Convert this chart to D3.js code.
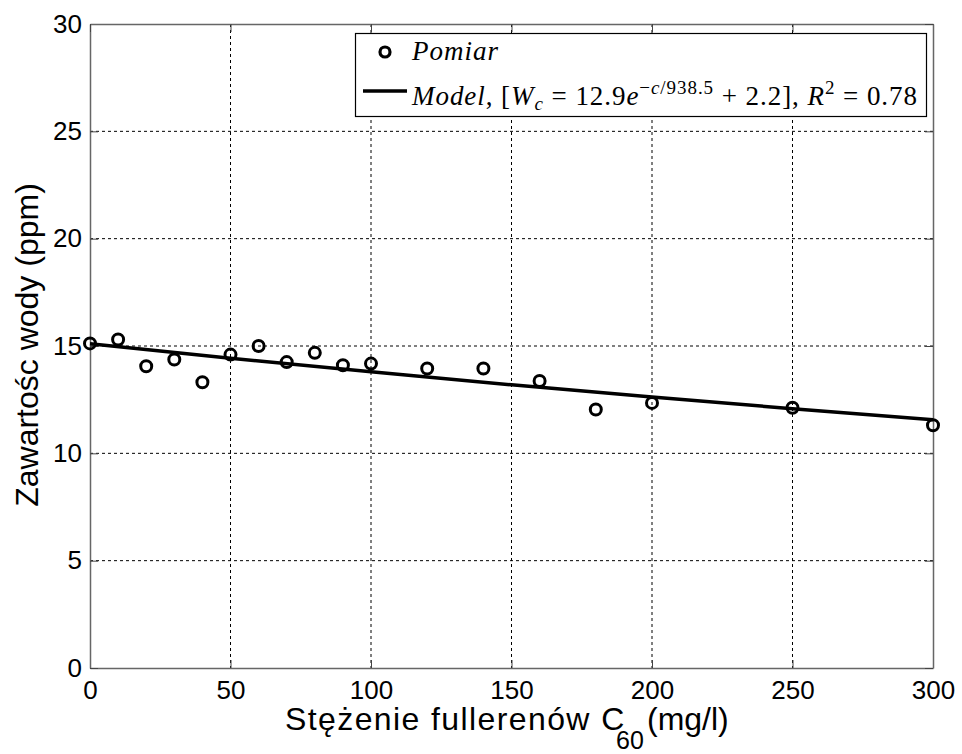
<!DOCTYPE html>
<html>
<head>
<meta charset="utf-8">
<script src="https://cdn.jsdelivr.net/npm/d3@7"></script>
<style>
  body { margin: 0; background: #fff; }
</style>
</head>
<body>
<div id="canvas"></div>
<script>
// measured points (concentration mg/l -> water ppm)
const concentration = [0, 10, 20, 30, 40, 50, 60, 70, 80, 90, 100, 120, 140, 160, 180, 200, 250, 300];
const water = [15.12, 15.3, 14.06, 14.37, 13.31, 14.6, 15.0, 14.25, 14.68, 14.1, 14.18, 13.95, 13.95, 13.37, 12.04, 12.35, 12.12, 11.31];

// model curve values
const modelC = [0, 50, 100, 150, 200, 250, 300];
const modelW = [15.1, 14.43, 13.8, 13.19, 12.62, 12.08, 11.57];

const xTicks = [0, 50, 100, 150, 200, 250, 300];
const yTicks = [0, 5, 10, 15, 20, 25, 30];

const width = 962, height = 754;
const margin = { top: 24, right: 29, bottom: 86, left: 90 };
const innerWidth = width - margin.left - margin.right;
const innerHeight = height - margin.top - margin.bottom;

const svg = d3.select('#canvas').append('svg')
    .attr('width', width)
    .attr('height', height)
    .style('background-color', '#fff');

const g = svg.append('g')
    .attr('transform', `translate(${margin.left},${margin.top})`);

const x = d3.scaleLinear().domain([0, 300]).range([0, innerWidth]);
const y = d3.scaleLinear().domain([0, 30]).range([innerHeight, 0]);

// dotted grid
g.append('g').selectAll('line')
  .data(xTicks.slice(1, -1))
  .enter().append('line')
    .attr('x1', d => x(d)).attr('x2', d => x(d))
    .attr('y1', 0).attr('y2', innerHeight)
    .attr('stroke', '#000').attr('stroke-width', 1)
    .attr('stroke-dasharray', '3,3');
g.append('g').selectAll('line')
  .data(yTicks.slice(1, -1))
  .enter().append('line')
    .attr('x1', 0).attr('x2', innerWidth)
    .attr('y1', d => y(d)).attr('y2', d => y(d))
    .attr('stroke', '#000').attr('stroke-width', 1)
    .attr('stroke-dasharray', '3,3');

// axes (box with inward ticks on all four sides)
const tickFont = 'Liberation Sans, Arial, sans-serif';
const xAxis = g.append('g')
    .attr('transform', `translate(0,${innerHeight})`)
    .call(d3.axisBottom(x).tickValues(xTicks).tickSizeInner(-8).tickSizeOuter(0).tickPadding(12));
const yAxis = g.append('g')
    .call(d3.axisLeft(y).tickValues(yTicks).tickSizeInner(-8).tickSizeOuter(0).tickPadding(8));
const xTop = g.append('g')
    .call(d3.axisTop(x).tickValues(xTicks).tickSizeInner(-8).tickSizeOuter(0).tickFormat(''));
const yRight = g.append('g')
    .attr('transform', `translate(${innerWidth},0)`)
    .call(d3.axisRight(y).tickValues(yTicks).tickSizeInner(-8).tickSizeOuter(0).tickFormat(''));
[xAxis, yAxis, xTop, yRight].forEach(a => {
  a.select('.domain').attr('stroke', '#666').attr('stroke-width', 1.5);
  a.selectAll('.tick line').attr('stroke', '#444');
  a.selectAll('.tick text').attr('font-family', tickFont).attr('font-size', 26).attr('fill', '#000');
});
xAxis.selectAll('.tick text').attr('dy', '0.72em');

// model line
const line = d3.line().x((d, i) => x(modelC[i])).y(d => y(d));
g.append('path')
  .datum(modelW)
  .attr('d', line)
  .attr('fill', 'none')
  .attr('stroke', '#000')
  .attr('stroke-width', 3.5);

// measurement markers
g.selectAll('circle.pt')
  .data(water)
  .enter().append('circle')
    .attr('cx', (d, i) => x(concentration[i]))
    .attr('cy', d => y(d))
    .attr('r', 5.5)
    .attr('fill', 'none')
    .attr('stroke', '#000')
    .attr('stroke-width', 3);

// legend
const lg = svg.append('g');
lg.append('rect')
  .attr('x', 355.5).attr('y', 33.5).attr('width', 571).attr('height', 83)
  .attr('fill', '#fff').attr('stroke', '#000').attr('stroke-width', 1.2);
lg.append('circle')
  .attr('cx', 385).attr('cy', 52).attr('r', 5)
  .attr('fill', 'none').attr('stroke', '#000').attr('stroke-width', 3.2);
lg.append('line')
  .attr('x1', 363).attr('x2', 407).attr('y1', 91).attr('y2', 91)
  .attr('stroke', '#000').attr('stroke-width', 3.5);

const serif = 'Liberation Serif, Times New Roman, serif';
lg.append('text')
  .attr('x', 412).attr('y', 60)
  .attr('font-family', serif).attr('font-size', 27).attr('font-style', 'italic')
  .attr('textLength', 86).attr('lengthAdjust', 'spacing')
  .text('Pomiar');

const mt = lg.append('text')
  .attr('x', 412).attr('y', 105)
  .attr('font-family', serif).attr('font-size', 27)
  .attr('textLength', 505).attr('lengthAdjust', 'spacing');
const parts = [
  ['Model', 'italic', 0, 27], [', [', 'normal', 0, 27],
  ['W', 'italic', 0, 27], ['c', 'italic', 5, 19],
  [' = 12.9', 'normal', -5, 27], ['e', 'italic', 0, 27],
  ['−', 'normal', -11, 19], ['c', 'italic', 0, 19], ['/938.5', 'normal', 0, 19],
  [' + 2.2], ', 'normal', 11, 27], ['R', 'italic', 0, 27],
  ['2', 'normal', -11, 19], [' = 0.78', 'normal', 11, 27]
];
parts.forEach(p => {
  mt.append('tspan')
    .attr('font-style', p[1])
    .attr('dy', p[2])
    .attr('font-size', p[3])
    .text(p[0]);
});

// axis titles
const xl = svg.append('text')
  .attr('y', 730)
  .attr('font-family', tickFont).attr('font-size', 32).attr('fill', '#000');
xl.append('tspan').attr('x', 285).attr('letter-spacing', 1.4).text('Stężenie fullerenów C');
xl.append('tspan').attr('x', 616).attr('font-size', 25).attr('dy', 19).text('60');
xl.append('tspan').attr('x', 647).attr('dy', -19).text('(mg/l)');

svg.append('text')
  .attr('transform', 'translate(38,345) rotate(-90)')
  .attr('text-anchor', 'middle')
  .attr('font-family', tickFont).attr('font-size', 32).attr('fill', '#000')
  .text('Zawartośc wody (ppm)');
</script>
</body>
</html>
